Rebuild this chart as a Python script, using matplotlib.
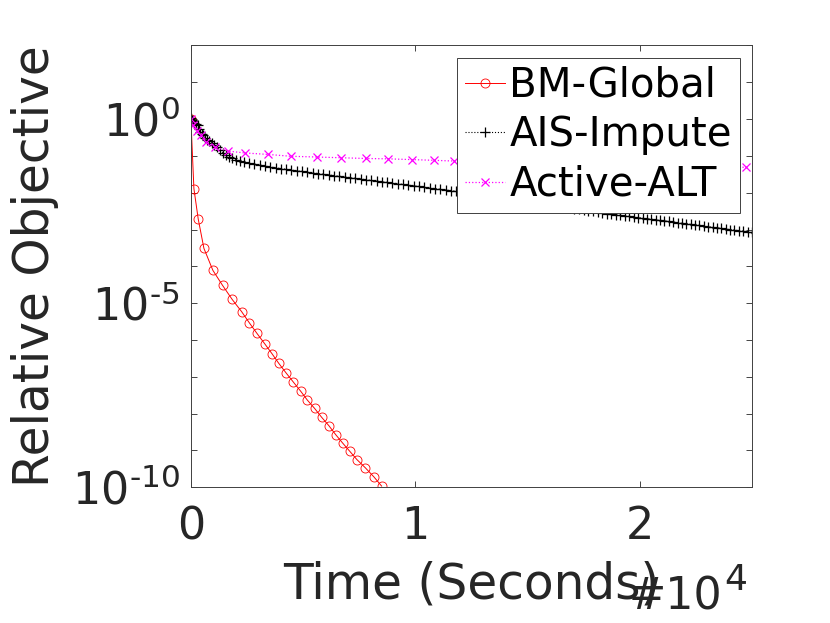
import matplotlib
matplotlib.use("Agg")
from matplotlib import pyplot as plt
import numpy as np

plt.rcParams['font.family'] = ['DejaVu Sans']
plt.rcParams['axes.unicode_minus'] = False

# BM-Global (time in seconds, log10 of relative objective)
bm_time = [0, 134, 325, 579, 980, 1413, 1840, 2259, 2598, 2941, 3284, 3609, 3908, 4233,
           4559, 4888, 5183, 5512, 5824, 6149, 6448, 6760, 7072, 7397, 7767, 8154, 8498]
bm_log10 = [0, -1.89, -2.71, -3.51, -4.11, -4.52, -4.90, -5.23, -5.53, -5.82, -6.10, -6.37,
            -6.63, -6.89, -7.14, -7.39, -7.63, -7.86, -8.10, -8.33, -8.57, -8.80, -9.02,
            -9.25, -9.47, -9.72, -9.97]

# AIS-Impute
ais_time = [0, 45, 90, 155, 225, 300, 355, 425, 490, 555, 645, 735, 825, 935, 1050, 1160,
            1290, 1425, 1560, 1690, 1850, 2005, 2180, 2360,
            2585, 2820, 3060, 3300, 3535, 3770, 4010, 4245, 4480, 4720, 4955, 5190, 5430,
            5665, 5900, 6140, 6375, 6610, 6850, 7085, 7320, 7560, 7795, 8030, 8270, 8505,
            8740, 8980, 9215, 9450, 9690, 9925, 10160, 10400, 10635, 10870, 11110, 11345,
            11580, 11820,
            12040, 12265, 12490, 12710, 12935, 13155, 13380, 13600, 13825, 14050, 14270,
            14495, 14715, 14940, 15160,
            15375, 15590, 15800, 16015, 16230, 16445, 16655, 16870, 17085, 17300,
            17505, 17710, 17915, 18120, 18325,
            18525, 18725, 18925, 19125, 19325, 19525, 19725, 19925, 20125,
            20320, 20515, 20710, 20905, 21100, 21295, 21490, 21685, 21880, 22075, 22270,
            22465, 22660, 22855, 23050, 23245, 23440, 23635, 23830, 24025, 24220, 24415,
            24610, 24805, 25000, 25195]
ais_log10 = [0.03, -0.02, -0.06, -0.10, -0.14, -0.17, -0.26, -0.35, -0.40, -0.44, -0.51,
             -0.56, -0.60, -0.65, -0.70, -0.76, -0.85, -0.91, -0.97, -1.02, -1.06, -1.10,
             -1.14, -1.17,
             -1.195, -1.22, -1.25, -1.275, -1.30, -1.32, -1.345, -1.365, -1.385, -1.405,
             -1.42, -1.44, -1.46, -1.48, -1.50, -1.515, -1.535, -1.55, -1.57, -1.59, -1.61,
             -1.63, -1.645, -1.665, -1.68, -1.70, -1.72, -1.74, -1.755, -1.775, -1.795,
             -1.81, -1.83, -1.85, -1.87, -1.89, -1.905, -1.925, -1.94, -1.96,
             -1.98, -2.00, -2.02, -2.04, -2.055, -2.075, -2.095, -2.115, -2.135, -2.155,
             -2.175, -2.195, -2.215, -2.235, -2.255,
             -2.275, -2.295, -2.31, -2.33, -2.35, -2.37, -2.39, -2.41, -2.43, -2.45,
             -2.47, -2.49, -2.51, -2.53, -2.55,
             -2.57, -2.585, -2.60, -2.615, -2.63, -2.645, -2.66, -2.675, -2.69,
             -2.705, -2.72, -2.735, -2.75, -2.765, -2.78, -2.80, -2.815, -2.83, -2.845,
             -2.86, -2.875, -2.89, -2.91, -2.925, -2.94, -2.955, -2.97, -2.985, -3.00,
             -3.015, -3.03, -3.045, -3.06, -3.08, -3.095]

# Active-ALT
alt_time = [0, 89, 254, 432, 668, 1069, 1662, 2406, 3444, 4456, 5601, 6684, 7798, 8801,
            9834, 10842, 11733, 12750, 13780, 14800, 15830, 16850, 17880, 18900, 19930,
            20950, 21980, 23000, 24030, 24731]
alt_log10 = [0, -0.17, -0.31, -0.44, -0.61, -0.76, -0.87, -0.92, -0.96, -1.01, -1.03,
             -1.05, -1.07, -1.08, -1.10, -1.12, -1.14, -1.16, -1.17, -1.18, -1.20, -1.21,
             -1.22, -1.24, -1.25, -1.26, -1.27, -1.29, -1.30, -1.31]

names = ["BM-Global", "AIS-Impute", "Active-ALT"]
txt = '#262626'

fig = plt.figure(figsize=(8.3, 6.23), dpi=100)
ax = fig.add_axes([0.230, 0.218, 0.676, 0.709])

ax.plot(bm_time, np.power(10.0, bm_log10), color='red', linestyle='-', linewidth=0.7,
        marker='o', markersize=6.5, markerfacecolor='none', markeredgewidth=0.6)
ax.plot(ais_time, np.power(10.0, ais_log10), color='black', linestyle=':', linewidth=0.8,
        marker='+', markersize=7, markeredgewidth=0.9)
ax.plot(alt_time, np.power(10.0, alt_log10), color='magenta', linestyle=':', linewidth=0.9,
        marker='x', markersize=5.5, markeredgewidth=0.9)

ax.set_yscale('log')
ax.set_xlim(0, 2.5e4)
ax.set_ylim(1e-10, 1e2)

ax.set_xticks([0, 1e4, 2e4])
ax.set_xticklabels(['0', '1', '2'])
decades = list(range(-10, 3))
ax.set_yticks([10.0 ** d for d in decades])
ax.set_yticklabels(['$10^{\\text{-}%d}$' % -d if d < 0 and d % 5 == 0 else
                    ('$10^{0}$' if d == 0 else '') for d in decades])
ax.minorticks_off()

ax.tick_params(axis='both', which='both', direction='in', length=4, width=0.6,
               colors=txt, labelsize=32, top=True, right=True)
ax.tick_params(axis='x', pad=13)
ax.tick_params(axis='y', pad=8)
for sp in ax.spines.values():
    sp.set_color('#404040')
    sp.set_linewidth(0.7)

ax.set_xlabel('Time (Seconds)', fontsize=35, color=txt, labelpad=9)
ax.set_ylabel('Relative Objective', fontsize=35, color=txt, labelpad=9)

# MATLAB-style exponent label, drawn as base and raised power
fig.text(722 / 830, 1 - 610 / 623, '#10', fontsize=32, color=txt, ha='right', va='baseline')
fig.text(724 / 830, 1 - 590 / 623, '4', fontsize=26, color=txt, ha='left', va='baseline')

leg = ax.legend(names, loc='upper right', fontsize=29, handlelength=1.0, handletextpad=0.1,
                labelspacing=0.24, borderpad=0.2, borderaxespad=0.3, fancybox=False,
                framealpha=1, edgecolor='#404040')
leg.get_frame().set_linewidth(0.7)

fig.savefig('out.png', dpi=100)
